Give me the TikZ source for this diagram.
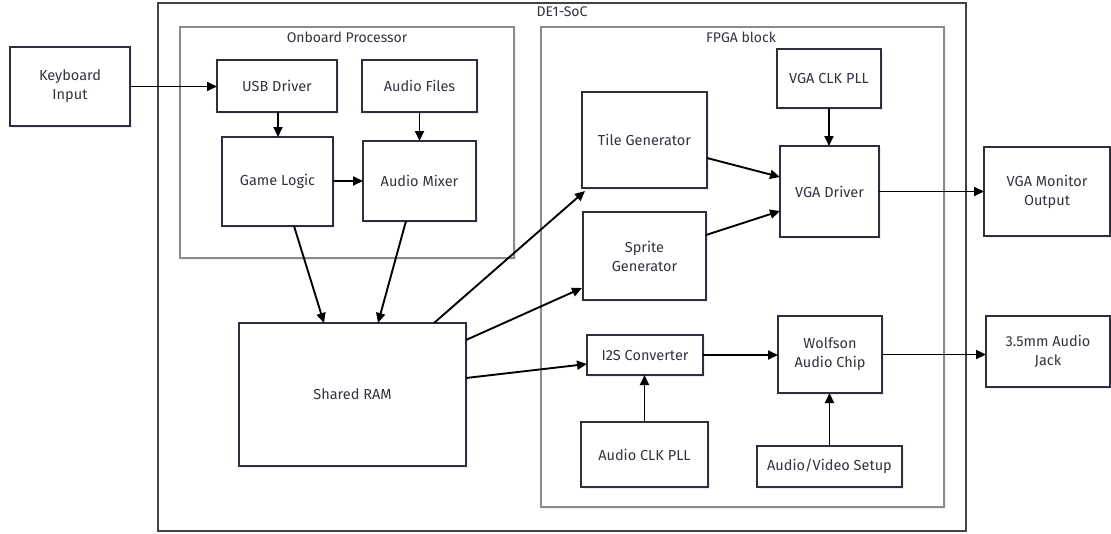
\documentclass[tikz,border=0pt]{standalone}
\usepackage{fontspec}
\setmainfont{Fira Sans}
\usetikzlibrary{arrows.meta,shadows,calc}
\definecolor{boxline}{HTML}{2E2E3E}
\definecolor{txt}{HTML}{333340}
\definecolor{grpline}{HTML}{8A8A8A}
\definecolor{outerline}{HTML}{444444}
\tikzset{
  blk/.style={draw=boxline, line width=1.5pt, fill=white, inner sep=0pt, outer sep=0pt,
    align=center, text=txt, font=\fontsize{14.5}{19}\selectfont,
    drop shadow={shadow xshift=2pt, shadow yshift=-2pt, fill=black, opacity=0.07}},
  grp/.style={draw=grpline, line width=1.1pt, fill=white,
    drop shadow={shadow xshift=2pt, shadow yshift=-2pt, fill=black, opacity=0.06}},
  outergrp/.style={draw=outerline, line width=1.6pt, fill=white},
  grplabel/.style={text=txt, font=\fontsize{14}{16}\selectfont, inner sep=0pt},
  conn/.style={draw=black, line width=1.9pt, -{Triangle[length=10pt,width=9pt]}}
}
\begin{document}
\begin{tikzpicture}[x=1pt,y=-1pt]
\useasboundingbox (0,0) rectangle (1111,533);
% containers
\draw[outergrp] (158,3) rectangle (966,531);
\node[grplabel] (lde) at (562,12) {DE1-SoC};
\draw[grp] (180,27) rectangle (514,258);
\node[grplabel] (lob) at (347,37) {Onboard Processor};
\draw[grp] (541,27) rectangle (944,507);
\node[grplabel] (lfp) at (741,37) {FPGA block};
% blocks
\node[blk, minimum width=120pt, minimum height=79pt] (kbd) at (70,86.5) {Keyboard\\Input};
\node[blk, minimum width=120pt, minimum height=52pt] (usb) at (277,86) {USB Driver};
\node[blk, minimum width=115pt, minimum height=52pt] (afiles) at (419.5,86) {Audio Files};
\node[blk, minimum width=111pt, minimum height=89pt] (glogic) at (277.5,181.5) {Game Logic};
\node[blk, minimum width=113pt, minimum height=80pt] (amixer) at (419.5,181) {Audio Mixer};
\node[blk, minimum width=227pt, minimum height=143pt] (ram) at (352.5,394.5) {Shared RAM};
\node[blk, minimum width=104pt, minimum height=59pt] (vgapll) at (829,78.5) {VGA CLK PLL};
\node[blk, minimum width=125pt, minimum height=96pt] (tile) at (644.5,140) {Tile Generator};
\node[blk, minimum width=99pt, minimum height=91pt] (vgadrv) at (829.5,191.5) {VGA Driver};
\node[blk, minimum width=123pt, minimum height=88pt] (sprite) at (644.5,256) {Sprite\\Generator};
\node[blk, minimum width=126pt, minimum height=89pt] (vgamon) at (1047,191.5) {VGA Monitor\\Output};
\node[blk, minimum width=116pt, minimum height=40pt] (i2s) at (645,355) {I2S Converter};
\node[blk, minimum width=104pt, minimum height=77pt] (wolf) at (830,354.5) {Wolfson\\Audio Chip};
\node[blk, minimum width=124pt, minimum height=71pt] (jack) at (1048,351.5) {3.5mm Audio\\Jack};
\node[blk, minimum width=127pt, minimum height=65pt] (apll) at (644.5,454.5) {Audio CLK PLL};
\node[blk, minimum width=145pt, minimum height=41pt] (avset) at (829.5,466.5) {Audio/Video Setup};
% connectors
\draw[conn] (kbd.east) -- (kbd.east -| usb.west);
\draw[conn] ([xshift=1pt]usb.south) -- ([xshift=1pt]usb.south |- glogic.north);
\draw[conn] (afiles.south) -- (afiles.south |- amixer.north);
\draw[conn] (glogic.east |- amixer.east) -- (amixer.west);
\draw[conn] ([xshift=16.5pt]glogic.south) -- ([xshift=-28.5pt]ram.north);
\draw[conn] ([xshift=-13.5pt]amixer.south) -- ([xshift=25.5pt]ram.north);
\draw[conn] ([xshift=81.5pt]ram.north) -- ([xshift=3pt,yshift=-3pt]tile.south west);
\draw[conn] ([yshift=-17pt]ram.north east) -- ([xshift=-1pt,yshift=12pt]sprite.south west);
\draw[conn] ([yshift=-55pt]ram.north east) -- ([yshift=-9pt]i2s.west);
\draw[conn] ([yshift=-18pt]tile.east) -- ([yshift=14.5pt]vgadrv.west);
\draw[conn] ([yshift=21pt]sprite.east) -- ([yshift=-19.5pt]vgadrv.west);
\draw[conn] (vgapll.south) -- (vgapll.south |- vgadrv.north);
\draw[conn] (vgadrv.east) -- (vgamon.west);
\draw[conn] (i2s.east) -- (i2s.east -| wolf.west);
\draw[conn] (wolf.east) -- (wolf.east -| jack.west);
\draw[conn] (apll.north) -- (apll.north |- i2s.south);
\draw[conn] (avset.north) -- (avset.north |- wolf.south);
\end{tikzpicture}
\end{document}
